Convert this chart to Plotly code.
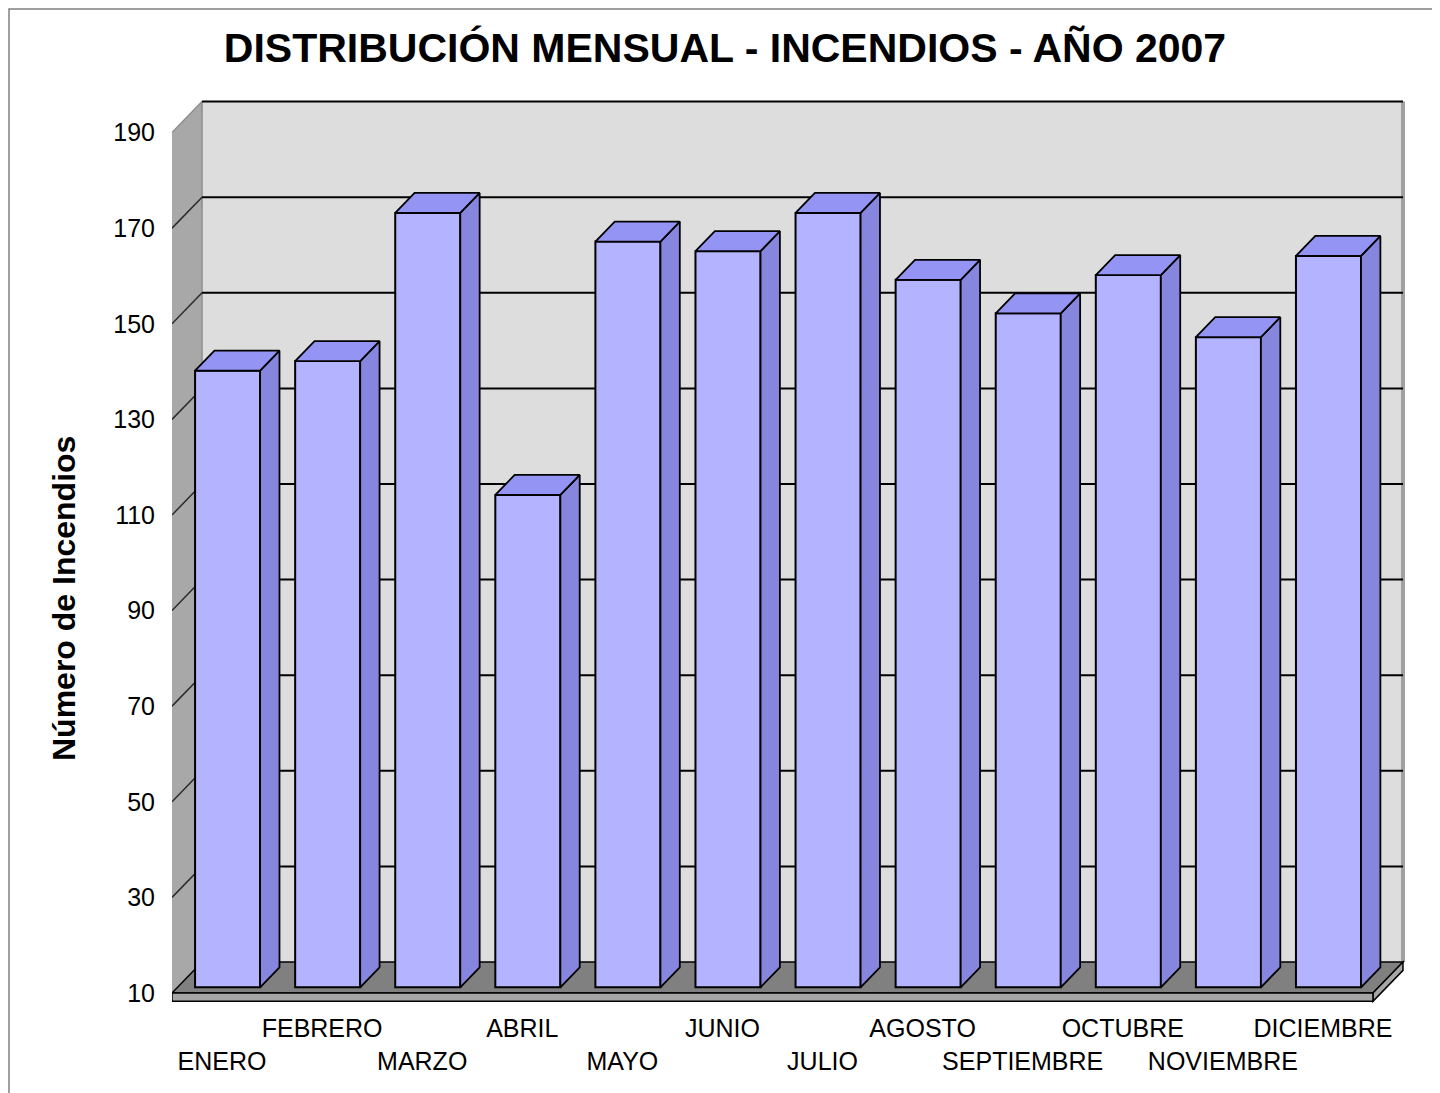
import plotly.graph_objects as go

# ---------------- data ----------------
months = ["ENERO", "FEBRERO", "MARZO", "ABRIL", "MAYO", "JUNIO", "JULIO",
          "AGOSTO", "SEPTIEMBRE", "OCTUBRE", "NOVIEMBRE", "DICIEMBRE"]
incendios = [139, 141, 172, 113, 166, 164, 172, 158, 151, 159, 146, 163]
y_ticks = [10, 30, 50, 70, 90, 110, 130, 150, 170, 190]
title_text = "DISTRIBUCIÓN MENSUAL - INCENDIOS - AÑO 2007"
y_title = "Número de Incendios"

# ---------------- pseudo-3D geometry (axis units) ----------------
FLOOR, TOP = 10, 190
DEPTH_X = 0.30          # horizontal depth of the box, in category units
DEPTH_Y = 6.485         # vertical depth of the box, in value units
BAR_W = 0.65
F1, F2 = 0.185, 0.83    # bar front / back depth fractions
SLAB = 1.75             # floor thickness
X_RANGE = [-0.5, 11.87]
Y_RANGE = [7.908, 197.657]

FONT = "Liberation Sans, Arial, sans-serif"
n = len(months)
xs = list(range(n))

# page body has an 8px margin: the figure is laid out in its own coordinates
FIG_W, FIG_H = 1432, 1085
PLOT_L, PLOT_T, PLOT_W, PLOT_H = 164, 88, 1238, 907

fig = go.Figure()

# front faces of bars
fig.add_trace(go.Bar(
    x=[i + F1 * DEPTH_X for i in xs],
    y=[v - FLOOR for v in incendios],
    base=FLOOR + F1 * DEPTH_Y,
    width=BAR_W,
    marker=dict(color="#B3B3FF", line=dict(color="black", width=2)),
    customdata=[[m, v] for m, v in zip(months, incendios)],
    hovertemplate="%{customdata[0]}: %{customdata[1]}<extra></extra>",
    showlegend=False,
))

# top and side faces
dxb = (F2 - F1) * DEPTH_X
dyb = (F2 - F1) * DEPTH_Y
top_x, top_y, side_x, side_y = [], [], [], []
for i, v in zip(xs, incendios):
    xl = i - BAR_W / 2 + F1 * DEPTH_X
    xr = i + BAR_W / 2 + F1 * DEPTH_X
    t = v + F1 * DEPTH_Y
    b = FLOOR + F1 * DEPTH_Y
    top_x += [xl, xr, xr + dxb, xl + dxb, xl, None]
    top_y += [t, t, t + dyb, t + dyb, t, None]
    side_x += [xr, xr, xr + dxb, xr + dxb, xr, None]
    side_y += [b, t, t + dyb, b + dyb, b, None]

fig.add_trace(go.Scatter(x=side_x, y=side_y, mode="lines", fill="toself",
                         fillcolor="#8686DF", line=dict(color="black", width=1.8),
                         hoverinfo="skip", showlegend=False))
fig.add_trace(go.Scatter(x=top_x, y=top_y, mode="lines", fill="toself",
                         fillcolor="#9494F5", line=dict(color="black", width=1.8),
                         hoverinfo="skip", showlegend=False))

# ---------------- walls, floor, gridlines (shapes, below traces) ----------------
xL, xR = -0.5, n - 0.5
bxL, bxR = xL + DEPTH_X, xR + DEPTH_X
shapes = []


def path(pts):
    return "M " + " L ".join(f"{px},{py}" for px, py in pts) + " Z"


# back wall
shapes.append(dict(type="rect", xref="x", yref="y", x0=bxL, x1=bxR,
                   y0=FLOOR + DEPTH_Y, y1=TOP + DEPTH_Y,
                   fillcolor="#DDDDDD", line=dict(width=0), layer="below"))
# left wall
shapes.append(dict(type="path", xref="x", yref="y",
                   path=path([(xL, FLOOR), (xL, TOP), (bxL, TOP + DEPTH_Y), (bxL, FLOOR + DEPTH_Y)]),
                   fillcolor="#A8A8A8", line=dict(width=0), layer="below"))
shapes.append(dict(type="line", xref="x", yref="y", x0=bxL, x1=bxL,
                   y0=FLOOR + DEPTH_Y, y1=TOP + DEPTH_Y,
                   line=dict(color="#8E8E8E", width=1.5), layer="below"))
shapes.append(dict(type="line", xref="x", yref="y", x0=xL, x1=bxL,
                   y0=TOP, y1=TOP + DEPTH_Y,
                   line=dict(color="#8E8E8E", width=1.5), layer="below"))
# right edge of back wall
shapes.append(dict(type="line", xref="x", yref="y", x0=bxR, x1=bxR,
                   y0=FLOOR + DEPTH_Y, y1=TOP + DEPTH_Y,
                   line=dict(color="#A0A0A0", width=4), layer="below"))
# gridlines on back wall and left wall
for v in y_ticks[1:]:
    shapes.append(dict(type="line", xref="x", yref="y", x0=bxL, x1=bxR,
                       y0=v + DEPTH_Y, y1=v + DEPTH_Y,
                       line=dict(color="black", width=2), layer="below"))
for v in y_ticks[1:-1]:
    shapes.append(dict(type="line", xref="x", yref="y", x0=xL, x1=bxL,
                       y0=v, y1=v + DEPTH_Y,
                       line=dict(color="#2A2A2A", width=1.5), layer="below"))
# floor
shapes.append(dict(type="path", xref="x", yref="y",
                   path=path([(xL, FLOOR), (bxL, FLOOR + DEPTH_Y), (bxR, FLOOR + DEPTH_Y), (xR, FLOOR)]),
                   fillcolor="#808080", line=dict(color="black", width=1.5), layer="below"))
shapes.append(dict(type="path", xref="x", yref="y",
                   path=path([(xR, FLOOR), (bxR, FLOOR + DEPTH_Y), (bxR, FLOOR + DEPTH_Y - SLAB), (xR, FLOOR - SLAB)]),
                   fillcolor="#A6A6A6", line=dict(color="black", width=1.5), layer="below"))
shapes.append(dict(type="rect", xref="x", yref="y", x0=xL, x1=xR,
                   y0=FLOOR - SLAB, y1=FLOOR,
                   fillcolor="#A6A6A6", line=dict(color="black", width=1.5), layer="below"))

# outer chart border (figure frame)
shapes.append(dict(type="rect", xref="paper", yref="paper",
                   x0=(1 - PLOT_L) / PLOT_W, x1=(1425 - PLOT_L) / PLOT_W,
                   y0=(PLOT_T + PLOT_H - 1200) / PLOT_H, y1=(PLOT_T + PLOT_H - 1) / PLOT_H,
                   line=dict(color="#808080", width=1.5), fillcolor="rgba(0,0,0,0)",
                   layer="below"))

ticktext = [m if i % 2 else " <br>" + m for i, m in enumerate(months)]

fig.update_layout(
    width=FIG_W, height=FIG_H, autosize=False,
    margin=dict(l=PLOT_L, r=FIG_W - PLOT_L - PLOT_W, t=PLOT_T, b=FIG_H - PLOT_T - PLOT_H, pad=0),
    paper_bgcolor="white", plot_bgcolor="white",
    shapes=shapes,
    showlegend=False,
    title=dict(text=title_text, x=717 / FIG_W, xref="container", xanchor="center",
               y=1 - 40 / FIG_H, yref="container", yanchor="middle",
               font=dict(family=FONT, size=41, color="black", weight="bold")),
    xaxis=dict(range=X_RANGE, tickmode="array", tickvals=xs, ticktext=ticktext,
               tickangle=0,
               showgrid=False, zeroline=False, showline=False, ticks="",
               tickfont=dict(family=FONT, size=25, color="black"),
               ticklabelstandoff=8, automargin=False, fixedrange=True),
    yaxis=dict(range=Y_RANGE, tickmode="array", tickvals=y_ticks,
               showgrid=False, zeroline=False, showline=False, ticks="",
               tickfont=dict(family=FONT, size=25, color="black"),
               ticklabelstandoff=16, automargin=False, fixedrange=True),
    annotations=[dict(text=y_title, textangle=-90, xref="paper", yref="paper",
                      x=(56 - PLOT_L) / PLOT_W, y=(PLOT_T + PLOT_H - 590) / PLOT_H,
                      xanchor="center", yanchor="middle", showarrow=False,
                      font=dict(family=FONT, size=32, color="black", weight="bold"))],
)

fig.write_html("out.html")
